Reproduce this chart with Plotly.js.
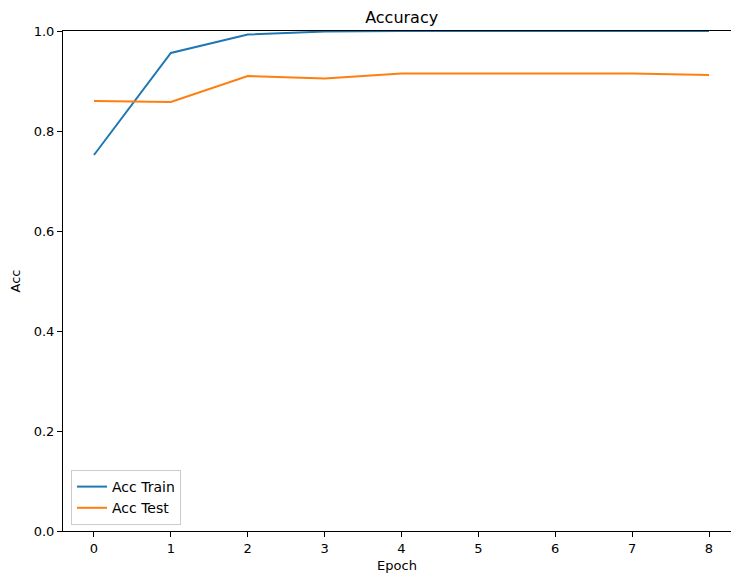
<!DOCTYPE html>
<html>
<head>
<meta charset="utf-8">
<script src="https://cdn.plot.ly/plotly-3.0.1.min.js"></script>
<style>html,body{margin:0;padding:0;background:#fff;}#chart{width:731px;height:575px;}</style>
</head>
<body>
<div id="chart"></div>
<script>
const epochs = [0, 1, 2, 3, 4, 5, 6, 7, 8];
const accTrain = [0.752, 0.956, 0.993, 0.999, 1.0, 1.0, 1.0, 1.0, 1.0];
const accTest = [0.860, 0.858, 0.910, 0.905, 0.915, 0.915, 0.915, 0.915, 0.912];
const xTicks = [0, 1, 2, 3, 4, 5, 6, 7, 8];
const yTicks = [0.0, 0.2, 0.4, 0.6, 0.8, 1.0];
const yTickText = ['0.0', '0.2', '0.4', '0.6', '0.8', '1.0'];

const font = {family: 'DejaVu Sans, sans-serif', size: 13, color: '#000'};
const traces = [
  {x: epochs, y: accTrain, mode: 'lines', name: 'Acc Train', line: {color: '#1f77b4', width: 2}},
  {x: epochs, y: accTest, mode: 'lines', name: 'Acc Test', line: {color: '#ff7f0e', width: 2}}
];
const layout = {
  width: 731, height: 575,
  margin: {l: 63, r: 0, t: 31, b: 44, pad: 0},
  paper_bgcolor: '#fff', plot_bgcolor: '#fff',
  font: font,
  showlegend: true,
  title: {text: 'Accuracy', font: {family: 'DejaVu Sans, sans-serif', size: 16, color: '#000'},
          xref: 'paper', x: 0.507, xanchor: 'center', yref: 'container', y: 1 - 17/575, yanchor: 'middle'},
  xaxis: {
    range: [-0.403, 8.286], tickvals: xTicks, ticktext: xTicks.map(String),
    showgrid: false, zeroline: false, showline: true, mirror: true, linecolor: '#000', linewidth: 1,
    ticks: 'outside', ticklen: 5, tickcolor: '#000', tickwidth: 1, tickfont: font,
    title: {text: 'Epoch', font: font, standoff: 6}
  },
  yaxis: {
    range: [0, 1], tickvals: yTicks, ticktext: yTickText,
    showgrid: false, zeroline: false, showline: true, mirror: false, linecolor: '#000', linewidth: 1,
    ticks: 'outside', ticklen: 5, tickcolor: '#000', tickwidth: 1, tickfont: font,
    title: {text: 'Acc', font: font, standoff: 10}
  },
  legend: {x: 0.012, y: 0.012, xanchor: 'left', yanchor: 'bottom', bgcolor: 'rgba(255,255,255,0.8)',
           bordercolor: '#ccc', borderwidth: 1, font: {family: 'DejaVu Sans, sans-serif', size: 14, color: '#000'},
           tracegroupgap: 0}
};
Plotly.newPlot('chart', traces, layout, {displayModeBar: false, staticPlot: true});
</script>
</body>
</html>
